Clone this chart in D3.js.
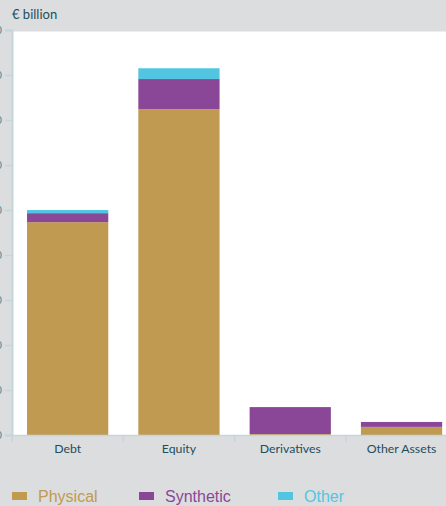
<!DOCTYPE html>
<html>
<head>
<meta charset="utf-8">
<script src="https://cdn.jsdelivr.net/npm/d3@7"></script>
<style>
  html, body { margin: 0; padding: 0; background: #dcdddf; }
  svg { display: block; }
  .axis-label { font-family: Lato, sans-serif; font-size: 12.3px; fill: #1d4f59; }
  .legend-text { font-family: "Liberation Sans", Arial, sans-serif; font-size: 16px; }
</style>
</head>
<body>
<div id="chart"></div>
<script>
// 類別與數值（€ billion）
const categories = ['Debt', 'Equity', 'Derivatives', 'Other Assets'];
const physical  = [473, 724, 2, 18];
const synthetic = [20, 67, 60, 11];
const other     = [7, 24, 0, 0];
const yTicks = [0, 100, 200, 300, 400, 500, 600, 700, 800, 900];

const seriesNames = ['Physical', 'Synthetic', 'Other'];
const colors = ['#c19a52', '#8b4797', '#52c6e0'];

const W = 446, H = 506;
const plotLeft = 12, plotBottom = 435, plotTop = 30;

const rows = categories.map((c, i) => ({
  cat: c, Physical: physical[i], Synthetic: synthetic[i], Other: other[i]
}));

const svg = d3.select('#chart').append('svg')
  .attr('width', W).attr('height', H);

// X 軸：每個類別寬約 111px，最後一格超出畫面
const x = d3.scaleBand()
  .domain(categories)
  .range([plotLeft, plotLeft + 111.3 * categories.length])
  .paddingInner(0.27)
  .paddingOuter(0.135);

const y = d3.scaleLinear()
  .domain([0, 900])
  .range([plotBottom, plotTop]);

// 白色繪圖區
svg.append('rect')
  .attr('x', plotLeft + 1).attr('y', y(900) + 1.5)
  .attr('width', W - plotLeft).attr('height', plotBottom - y(900) - 1.5)
  .attr('fill', '#fff');

// 標題
svg.append('text')
  .attr('class', 'axis-label')
  .attr('x', 12).attr('y', 19)
  .style('font-size', '13px')
  .text('€ billion');

// 堆疊長條
const stack = d3.stack().keys(seriesNames)(rows);
svg.append('g')
  .selectAll('g')
  .data(stack)
  .join('g')
  .attr('fill', (d, i) => colors[i])
  .selectAll('rect')
  .data(d => d)
  .join('rect')
  .attr('x', d => x(d.data.cat))
  .attr('y', d => y(d[1]))
  .attr('width', x.bandwidth())
  .attr('height', d => y(d[0]) - y(d[1]));

// Y 軸（刻度文字在左側被裁掉，和原圖一樣）
const yAxis = svg.append('g')
  .attr('transform', `translate(${plotLeft},0)`)
  .call(d3.axisLeft(y).tickValues(yTicks).tickSize(7).tickPadding(3));
yAxis.select('.domain').attr('stroke', '#c3d6db').attr('stroke-width', 2);
yAxis.selectAll('.tick line').attr('stroke', '#c3d6db').attr('stroke-width', 1.5);
yAxis.selectAll('.tick text')
  .attr('fill', '#5a8a94')
  .style('font-family', 'Lato, sans-serif')
  .style('font-size', '11px');

// X 軸
const xTickPos = categories.map((c, i) => plotLeft + i * x.step());
const xAxisG = svg.append('g');
xAxisG.append('line')
  .attr('x1', plotLeft).attr('x2', W)
  .attr('y1', plotBottom + 0.5).attr('y2', plotBottom + 0.5)
  .attr('stroke', '#c3d6db').attr('stroke-width', 1.5);
xAxisG.selectAll('.xt')
  .data(xTickPos)
  .join('line')
  .attr('x1', d => d).attr('x2', d => d)
  .attr('y1', plotBottom).attr('y2', plotBottom + 7)
  .attr('stroke', '#c3d6db').attr('stroke-width', 1.5);
xAxisG.selectAll('.xl')
  .data(categories)
  .join('text')
  .attr('class', 'axis-label')
  .attr('x', d => x(d) + x.bandwidth() / 2)
  .attr('y', plotBottom + 18)
  .attr('text-anchor', 'middle')
  .text(d => d);

// 圖例
const legendX = [12, 139, 278];
const legend = svg.append('g')
  .selectAll('g')
  .data(seriesNames)
  .join('g')
  .attr('transform', (d, i) => `translate(${legendX[i]},492)`);
legend.append('rect')
  .attr('width', 15).attr('height', 8)
  .attr('fill', (d, i) => colors[i]);
legend.append('text')
  .attr('class', 'legend-text')
  .attr('x', 26).attr('y', 10)
  .attr('fill', (d, i) => colors[i])
  .text(d => d);
</script>
</body>
</html>
